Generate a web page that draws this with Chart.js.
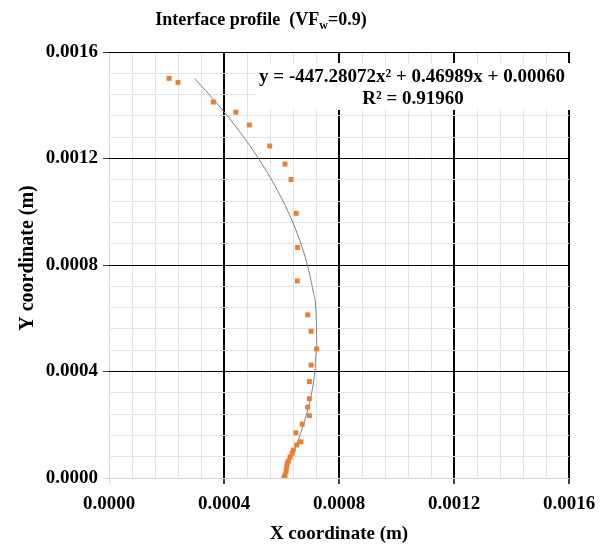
<!DOCTYPE html>
<html>
<head>
<meta charset="utf-8">
<script src="https://cdn.jsdelivr.net/npm/chart.js@4/dist/chart.umd.min.js"></script>
<style>
  html, body { margin: 0; padding: 0; background: #fff; }
  #wrap { width: 605px; height: 545px; }
</style>
</head>
<body>
<div id="wrap"><canvas id="myChart" width="605" height="545"></canvas></div>
<script>
// measured points of the interface (x, y in metres)
const pointX = [0.000209, 0.000240, 0.000363, 0.000441, 0.000488, 0.000559, 0.000612, 0.000633,
  0.000651, 0.000656, 0.000655, 0.000691, 0.000703, 0.000722, 0.000703, 0.000697, 0.000697,
  0.000691, 0.000697, 0.000672, 0.000650, 0.000667, 0.000653, 0.000641, 0.000637, 0.000630,
  0.000624, 0.000620, 0.000618, 0.000616, 0.000612, 0.000610];
const pointY = [0.001501, 0.001486, 0.001412, 0.001374, 0.001326, 0.001247, 0.001179, 0.001121,
  0.000994, 0.000866, 0.000740, 0.000613, 0.000551, 0.000485, 0.000424, 0.000362, 0.000298,
  0.000266, 0.000234, 0.000202, 0.000170, 0.000136, 0.000124, 0.000105, 0.000093, 0.000079,
  0.000064, 0.000055, 0.000041, 0.000024, 0.000008, 0.000000];

// polynomial trendline
const trendX = [0.000600, 0.000643, 0.000676, 0.000701, 0.000716, 0.000723, 0.000721, 0.000710,
  0.000690, 0.000661, 0.000623, 0.000576, 0.000520, 0.000455, 0.000381, 0.000298];
const trendY = [0.0000, 0.0001, 0.0002, 0.0003, 0.0004, 0.0005, 0.0006, 0.0007,
  0.0008, 0.0009, 0.0010, 0.0011, 0.0012, 0.0013, 0.0014, 0.0015];

const xTickLabels = ["0.0000", "0.0004", "0.0008", "0.0012", "0.0016"];
const yTickLabels = ["0.0000", "0.0004", "0.0008", "0.0012", "0.0016"];

const titleText = "Interface profile  (VF";
const titleSub = "w";
const titleEnd = "=0.9)";
const xTitle = "X coordinate (m)";
const yTitle = "Y coordinate (m)";
const eqLine1 = "y = -447.28072x\u00B2 + 0.46989x + 0.00060";
const eqLine2 = "R\u00B2 = 0.91960";

const FONT = "'Liberation Serif', 'Times New Roman', serif";

const points = pointX.map((x, i) => ({ x: x, y: pointY[i] }));
const trend = trendX.map((x, i) => ({ x: x, y: trendY[i] }));

// gridline values: minor step is a fifth of the labelled step
const gridValues = [];
for (let i = 0; i <= 20; i++) gridValues.push(i * 0.00008);

function gridColor(ctx) {
  if (ctx.index === 0) return "#d9d9d9";
  return ctx.index % 5 === 0 ? "#000000" : "#e3e3e3";
}
function tickColor(ctx) {
  if (ctx.index % 5 !== 0) return "rgba(0,0,0,0)";
  return ctx.index === 0 ? "#d9d9d9" : "#404040";
}

const textPlugin = {
  id: "texts",
  beforeDatasetsDraw(chart) {
    const c = chart.ctx;
    // white box behind the equation
    c.save();
    c.fillStyle = "#ffffff";
    c.fillRect(255, 63, 318, 47);
    c.restore();
  },
  afterDraw(chart) {
    const c = chart.ctx;
    c.save();
    c.fillStyle = "#000";
    c.textBaseline = "middle";

    // equation
    c.font = "bold 19px " + FONT;
    c.textAlign = "center";
    c.fillText(eqLine1, 412, 77);
    c.fillText(eqLine2, 413, 99);

    // title with subscript
    c.textAlign = "left";
    c.font = "bold 18px " + FONT;
    const w1 = c.measureText(titleText).width;
    c.font = "bold 12px " + FONT;
    const w2 = c.measureText(titleSub).width;
    c.font = "bold 18px " + FONT;
    const w3 = c.measureText(titleEnd).width;
    let tx = 261 - (w1 + w2 + w3) / 2;
    c.fillText(titleText, tx, 20);
    c.font = "bold 12px " + FONT;
    c.fillText(titleSub, tx + w1, 26);
    c.font = "bold 18px " + FONT;
    c.fillText(titleEnd, tx + w1 + w2, 20);

    // axis titles
    c.textAlign = "center";
    c.font = "bold 19px " + FONT;
    c.fillText(xTitle, 339, 534);
    c.font = "bold 20px " + FONT;
    c.translate(28, 258);
    c.rotate(-Math.PI / 2);
    c.fillText(yTitle, 0, 0);
    c.restore();
  }
};

new Chart(document.getElementById("myChart"), {
  type: "scatter",
  data: {
    datasets: [
      {
        label: "points",
        data: points,
        pointStyle: "rect",
        pointRadius: 3.5,
        pointBackgroundColor: "#ED7D31",
        pointBorderWidth: 0,
        showLine: false,
        order: 1,
      },
      {
        label: "trend",
        data: trend,
        showLine: true,
        borderColor: "#808080",
        borderWidth: 1,
        pointRadius: 0,
        tension: 0.4,
        cubicInterpolationMode: "monotone",
        order: 2,
      },
    ],
  },
  options: {
    responsive: false,
    animation: false,
    layout: { padding: { top: 52, right: 36, bottom: 0, left: 0 } },
    plugins: {
      legend: { display: false },
      tooltip: { enabled: false },
    },
    scales: {
      x: {
        type: "linear",
        min: 0,
        max: 0.0016,
        afterBuildTicks: (axis) => { axis.ticks = gridValues.map((v) => ({ value: v })); },
        afterFit: (s) => { s.height = 67; },
        border: { display: false },
        grid: {
          color: gridColor,
          lineWidth: (ctx) => (ctx.index % 5 === 0 && ctx.index !== 0 ? 2 : 1),
          tickColor: tickColor,
          tickLength: 6,
        },
        ticks: {
          autoSkip: false,
          maxRotation: 0,
          padding: 9,
          color: "#000",
          font: { family: FONT, size: 19, weight: "bold" },
          callback: (v, i) => (i % 5 === 0 ? xTickLabels[i / 5] : ""),
        },
      },
      y: {
        type: "linear",
        min: 0,
        max: 0.0016,
        afterBuildTicks: (axis) => { axis.ticks = gridValues.map((v) => ({ value: v })); },
        afterFit: (s) => { s.width = 109; },
        border: { display: false },
        grid: {
          color: gridColor,
          lineWidth: 1,
          tickColor: tickColor,
          tickLength: 6,
        },
        ticks: {
          autoSkip: false,
          padding: 5,
          color: "#000",
          font: { family: FONT, size: 19, weight: "bold" },
          callback: (v, i) => (i % 5 === 0 ? yTickLabels[i / 5] : ""),
        },
      },
    },
  },
  plugins: [textPlugin],
});
</script>
</body>
</html>
